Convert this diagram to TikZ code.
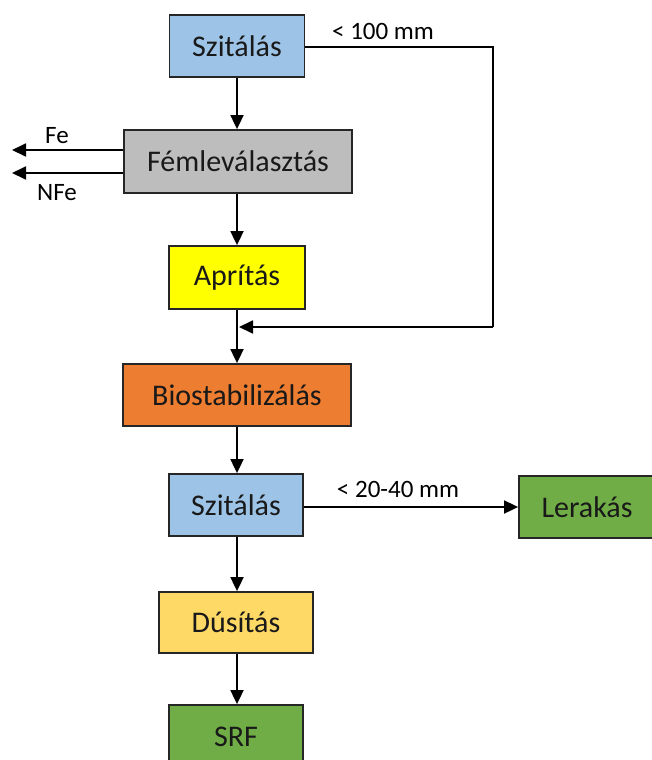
\documentclass[tikz,border=0pt]{standalone}
\usepackage{fontspec}
\setmainfont{Carlito}
\usetikzlibrary{arrows.meta}
\definecolor{screenblue}{HTML}{9DC3E6}
\definecolor{metalgray}{HTML}{BDBDBD}
\definecolor{shredyellow}{HTML}{FFFF00}
\definecolor{bioorange}{HTML}{ED7D31}
\definecolor{leafgreen}{HTML}{70AD47}
\definecolor{goldfill}{HTML}{FFD966}
\definecolor{edge}{HTML}{262626}
\tikzset{
  stagebox/.style={draw=edge, line width=1.8pt, inner sep=0pt, rectangle,
    minimum height=62pt, font=\fontsize{30}{34}\selectfont, text=black!90},
  flow/.style={draw=black, line width=1.8pt,
    -{Triangle[length=14pt,width=13pt]}},
  plainline/.style={draw=black, line width=1.8pt},
  smalltext/.style={font=\fontsize{25}{29}\selectfont, text=black, inner sep=0pt},
}
\begin{document}
\begin{tikzpicture}[x=1pt, y=-1pt]
  \useasboundingbox (0,0) rectangle (652,760);
  \fill[white] (0,0) rectangle (652,760);

  % process stages, centred on one column
  \node[stagebox, fill=screenblue, minimum width=135pt] (s1) at (237,46) {Szitálás};
  \node[stagebox, fill=metalgray, minimum width=228pt, minimum height=63pt] (fem) at (238,161.5) {Fémleválasztás};
  \node[stagebox, fill=shredyellow, minimum width=136pt, minimum height=63pt] (apr) at (237,277.5) {Aprítás};
  \node[stagebox, fill=bioorange, minimum width=228pt] (bio) at (237,395) {Biostabilizálás};
  \node[stagebox, fill=screenblue, minimum width=134pt] (s2) at (236,505) {Szitálás};
  \node[stagebox, fill=leafgreen, minimum width=136pt] (ler) at (587,507) {Lerakás};
  \node[stagebox, fill=goldfill, minimum width=154pt, minimum height=61pt] (dus) at (236,622.5) {Dúsítás};
  \node[stagebox, fill=leafgreen, minimum width=134pt, minimum height=64pt] (srf) at (236,737) {SRF};

  % metal outputs
  \coordinate (feend) at (12,150);
  \coordinate (nfeend) at (12,173);
  \draw[flow] (fem.west |- feend) -- (feend);
  \draw[flow] (fem.west |- nfeend) -- (nfeend);
  \node[smalltext] (fe) at (57,136) {Fe};
  \node[smalltext] (nfe) at (57,193) {NFe};

  % main line
  \coordinate (col) at (237,0);
  \draw[flow] (s1.south -| col) -- (fem.north -| col);
  \draw[flow] (fem.south -| col) -- (apr.north -| col);
  \coordinate (merge) at (239,327);
  \draw[flow] (apr.south -| col) -- (bio.north -| col);
  \draw[flow] (bio.south -| col) -- (s2.north -| col);
  \draw[flow] (s2.south -| col) -- (dus.north -| col);
  \draw[flow] (dus.south -| col) -- (srf.north -| col);

  % coarse fraction returned
  \coordinate (c1) at (493,47);
  \coordinate (c2) at (493,327);
  \draw[plainline] (s1.east |- c1) -- (c1) -- (c2);
  \draw[flow] (c2) -- (merge);
  \node[smalltext] (lbl1) at (383,31) {< 100 mm};

  % fine fraction to landfill
  \draw[flow] (s2.east |- ler) -- (ler.west);
  \node[smalltext] (lbl2) at (398,489) {< 20-40 mm};
\end{tikzpicture}
\end{document}
